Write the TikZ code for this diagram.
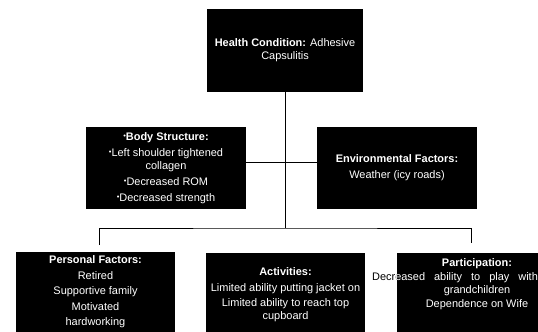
\documentclass[tikz,border=0pt]{standalone}
\usepackage{fontspec}
\setmainfont{Liberation Sans}
\usetikzlibrary{positioning}

\newcommand{\dotitem}{\raisebox{0.25ex}{\fontsize{7.5}{7.5}\selectfont\textbullet}}
\newcommand{\participationlines}{\textbf{Participation:}\\[1bp]\hspace*{-44bp}{\spaceskip=9bp Decreased ability to play with}\\grandchildren\\[1bp]Dependence on Wife}

\tikzset{
  factor/.style={fill=black, text=white, align=center, inner sep=0pt,
    minimum width=160bp, minimum height=82bp, font=\fontsize{11}{13}\selectfont},
  factortext/.style={text=white, align=center, inner sep=0pt, font=\fontsize{11}{13}\selectfont},
  link/.style={line width=0.8bp}
}

\begin{document}
\begin{tikzpicture}[x=1bp,y=-1bp]
  \useasboundingbox (0,0) rectangle (538,331);

  % health condition
  \node[factor, minimum width=156bp, minimum height=83bp] (health) at (285,50.5)
    {\textbf{Health Condition:} Adhesive\\Capsulitis};

  % middle row
  \node[factor] (body) at (166,168)
    {\dotitem\textbf{Body Structure:}\\[3bp]\dotitem Left shoulder tightened\\collagen\\[3bp]\dotitem Decreased ROM\\[3bp]\dotitem Decreased strength};
  \node[factor] (env) at (397,168)
    {\textbf{Environmental Factors:}\\[3bp]Weather (icy roads)};

  % bottom row
  \node[factor, minimum width=159bp, minimum height=88bp] (personal) at (95.5,296) {};
  \node[factor, minimum width=159bp, minimum height=88bp] (activities) at (285.5,297) {};
  \node[factor, minimum width=160bp, minimum height=88bp] (participation) at (477,297) {};

  \node[factortext, below=4bp of personal.north] (personal text)
    {\textbf{Personal Factors:}\\[2.5bp]Retired\\[2.5bp]Supportive family\\[2.5bp]Motivated\\[2.5bp]hardworking};
  \node[factortext, below=15bp of activities.north] (activities text)
    {\textbf{Activities:}\\[2.5bp]Limited ability putting jacket on\\[2.5bp]Limited ability to reach top\\cupboard};
  % text runs out of the box on the left: dark outside, white inside
  \node[factortext, text=black, below=6bp of participation.north] (participation text)
    {\participationlines};
  \begin{scope}
    \clip (participation.north west) rectangle (participation.south east);
    \node[factortext, at=(participation text)] {\participationlines};
  \end{scope}

  % connectors
  \coordinate (split) at (285,228);
  \coordinate (personal drop) at (99,245);
  \coordinate (participation drop) at (471,243);

  \draw[link] (health.south) -- (split);
  \draw[link] ([yshift=6bp]body.east) -- ([yshift=6bp]env.west);
  \draw[link] (personal drop) |- (split) -| (participation drop);
\end{tikzpicture}
\end{document}
